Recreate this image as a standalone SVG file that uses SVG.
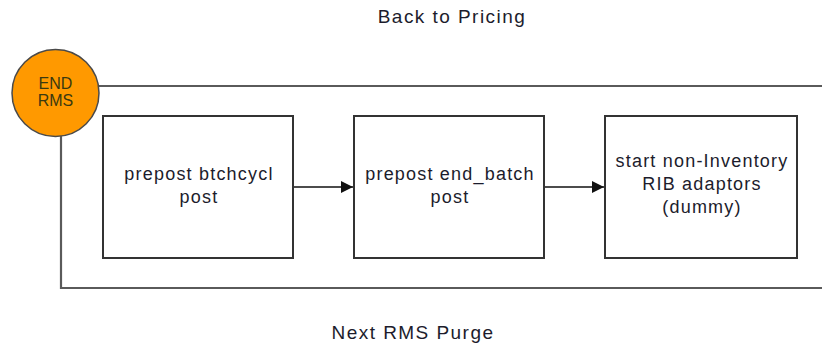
<svg xmlns="http://www.w3.org/2000/svg" width="822" height="350" viewBox="0 0 822 350">
<defs>
<style>
.box{fill:#fff;stroke:#333;stroke-width:2}
.loop{fill:none;stroke:#5a5a5a;stroke-width:2.2}
.arr{fill:none;stroke:#111;stroke-width:1.6}
.t{font-family:"Liberation Sans",Arial,sans-serif;font-size:18px;letter-spacing:1.2px;fill:#1c1c2c;text-anchor:middle}
.lbl{font-family:"Liberation Sans",Arial,sans-serif;font-size:19px;letter-spacing:1.45px;fill:#1c1c2c;text-anchor:middle}
.c{font-family:"Liberation Sans",Arial,sans-serif;font-size:16px;fill:#3a3a10;text-anchor:middle}
</style>
<marker id="ah" viewBox="0 0 12 12" refX="12" refY="6" markerWidth="12" markerHeight="12" markerUnits="userSpaceOnUse" orient="auto">
<path d="M0,0 L12,6 L0,12 z" fill="#111"/>
</marker>
</defs>
<rect width="822" height="350" fill="#fff"/>
<g id="connectors">
<path class="loop" d="M99,86 H822"/>
<path class="loop" d="M61,135 V288 H822"/>
<path class="arr" d="M293,187 H353" marker-end="url(#ah)"/>
<path class="arr" d="M544,187 H604" marker-end="url(#ah)"/>
<text class="lbl" x="452" y="23">Back to Pricing</text>
<text class="lbl" x="413" y="339">Next RMS Purge</text>
</g>
<g id="end-rms">
<circle cx="55.5" cy="93" r="43.5" fill="#FF9900" stroke="#4a4a4a" stroke-width="1.5"/>
<text class="c" x="55.5" y="89">END</text>
<text class="c" x="55.5" y="106">RMS</text>
</g>
<g id="prepost-btchcycl">
<rect class="box" x="103" y="116" width="190" height="142"/>
<text class="t" x="199" y="180">prepost btchcycl</text>
<text class="t" x="199" y="203">post</text>
</g>
<g id="prepost-end-batch">
<rect class="box" x="354" y="116" width="190" height="142"/>
<text class="t" x="450" y="180">prepost end_batch</text>
<text class="t" x="450" y="203">post</text>
</g>
<g id="start-rib">
<rect class="box" x="605" y="116" width="192" height="142"/>
<text class="t" x="702" y="167">start non-Inventory</text>
<text class="t" x="702" y="190">RIB adaptors</text>
<text class="t" x="702" y="213">(dummy)</text>
</g>
</svg>
